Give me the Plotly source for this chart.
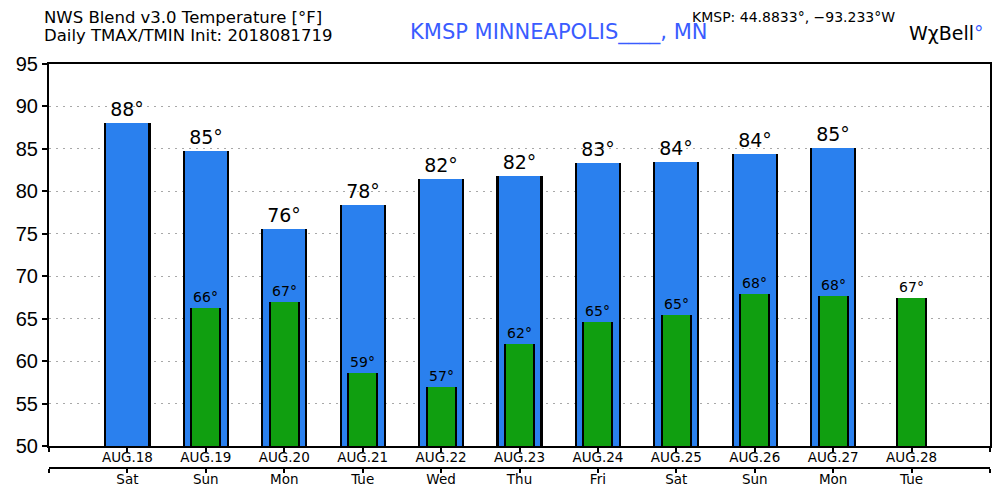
import plotly.graph_objects as go

dates = ["AUG.18", "AUG.19", "AUG.20", "AUG.21", "AUG.22", "AUG.23",
         "AUG.24", "AUG.25", "AUG.26", "AUG.27", "AUG.28"]
weekdays = ["Sat", "Sun", "Mon", "Tue", "Wed", "Thu", "Fri", "Sat", "Sun", "Mon", "Tue"]
tmax = [88.0, 84.8, 75.6, 78.4, 81.5, 81.8, 83.3, 83.5, 84.4, 85.1, None]
tmin = [None, 66.3, 67.0, 58.6, 57.0, 62.0, 64.6, 65.4, 67.9, 67.7, 67.4]

BLUE = "#2a80ee"
GREEN = "#109f10"
FONT = "DejaVu Sans"

xs = list(range(len(dates)))

def lab(v):
    return "" if v is None else f"{round(v):d}°"

def heights(vals):
    return [None if v is None else v - 50 for v in vals]

fig = go.Figure()
# black side edges for max bars
fig.add_trace(go.Bar(x=xs, y=heights(tmax), base=50, width=0.59,
                     marker=dict(color="black", line=dict(width=0)),
                     hoverinfo="skip", showlegend=False))
fig.add_trace(go.Bar(x=xs, y=heights(tmax), base=50, width=0.535,
                     marker=dict(color=BLUE, line=dict(width=0)),
                     text=[lab(v) for v in tmax], textposition="outside",
                     textfont=dict(family=FONT, size=19, color="black"),
                     constraintext="none", cliponaxis=False, showlegend=False))
fig.add_trace(go.Bar(x=xs, y=heights(tmin), base=50, width=0.395,
                     marker=dict(color="black", line=dict(width=0)),
                     hoverinfo="skip", showlegend=False))
fig.add_trace(go.Bar(x=xs, y=heights(tmin), base=50, width=0.345,
                     marker=dict(color=GREEN, line=dict(width=0)),
                     text=[lab(v) for v in tmin], textposition="outside",
                     textfont=dict(family=FONT, size=14, color="black"),
                     constraintext="none", cliponaxis=False, showlegend=False))
# activate the second (weekday) x axis
fig.add_trace(go.Scatter(x=[-1], y=[None], xaxis="x2", yaxis="y", showlegend=False,
                         hoverinfo="skip"))

tickvals = [-1] + xs + [11]
fig.update_layout(
    width=992, height=492,
    margin=dict(l=37, r=8, t=56, b=32),
    paper_bgcolor="white", plot_bgcolor="white",
    barmode="overlay", bargap=0,
    font=dict(family=FONT, color="black"),
    xaxis=dict(range=[-1, 11], tickvals=tickvals, ticktext=[""] + dates + [""],
               showgrid=False, zeroline=False, showline=True, linecolor="black",
               linewidth=2, mirror=True, ticks="outside", ticklen=4, tickwidth=1.5,
               tickcolor="black", tickfont=dict(family=FONT, size=13.5), anchor="y",
               ticklabelstandoff=-6),
    xaxis2=dict(range=[-1, 11], tickvals=tickvals, ticktext=[""] + weekdays + [""],
                overlaying="x", anchor="free", position=0, side="bottom",
                showgrid=False, zeroline=False, showline=True, linecolor="black",
                linewidth=2, ticks="outside", ticklen=4, tickwidth=1.5,
                tickcolor="black", tickfont=dict(family=FONT, size=13.5),
                ticklabelstandoff=-5),
    yaxis=dict(range=[50, 95], domain=[0.0545, 1], tickvals=list(range(50, 96, 5)),
               showgrid=True, gridcolor="#a8a8a8", griddash="2px,5px", gridwidth=1.2,
               zeroline=False, showline=True, linecolor="black", linewidth=2,
               mirror=True, ticks="outside", ticklen=5, tickwidth=1.5, tickcolor="black",
               tickfont=dict(family="Liberation Sans", size=20)),
)

fig.add_annotation(text="NWS Blend v3.0 Temperature [°F]", xref="paper", yref="paper",
                   x=-0.007, y=1.116, xanchor="left", yanchor="middle", showarrow=False,
                   font=dict(family=FONT, size=16.5, color="black"))
fig.add_annotation(text="Daily TMAX/TMIN Init: 2018081719", xref="paper", yref="paper",
                   x=-0.007, y=1.071, xanchor="left", yanchor="middle", showarrow=False,
                   font=dict(family=FONT, size=16.5, color="black"))
fig.add_annotation(text="KMSP MINNEAPOLIS____, MN", xref="paper", yref="paper",
                   x=0.381, y=1.077, xanchor="left", yanchor="middle", showarrow=False,
                   font=dict(family=FONT, size=21, color="#3a5cff"))
fig.add_annotation(text="KMSP: 44.8833°, −93.233°W", xref="paper", yref="paper",
                   x=0.681, y=1.117, xanchor="left", yanchor="middle", showarrow=False,
                   font=dict(family=FONT, size=14, color="black"))
fig.add_annotation(text="WχBell<span style='color:#3a5cff'>°</span>", xref="paper", yref="paper",
                   x=0.912, y=1.077, xanchor="left", yanchor="middle", showarrow=False,
                   font=dict(family=FONT, size=19, color="black"))

fig.write_html("out.html")
